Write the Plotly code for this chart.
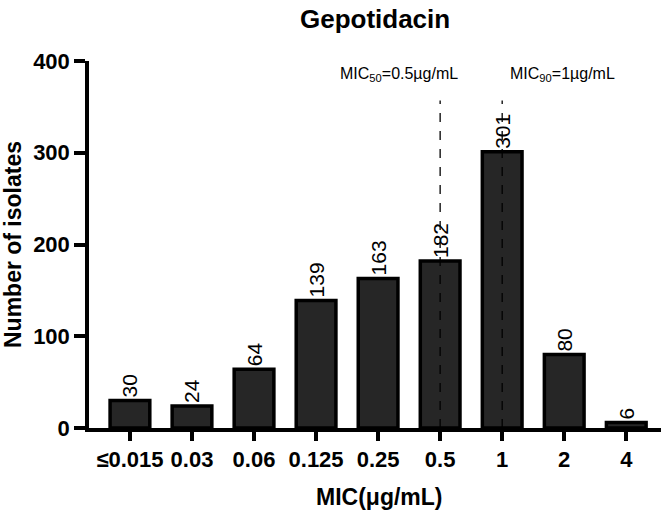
import plotly.graph_objects as go

categories = ["≤0.015", "0.03", "0.06", "0.125", "0.25", "0.5", "1", "2", "4"]
counts = [30, 24, 64, 139, 163, 182, 301, 80, 6]
mic50_cat = "0.5"
mic90_cat = "1"
mic_line_top = 357
yticks = [0, 100, 200, 300, 400]

FONT = "Liberation Sans, Arial, sans-serif"
xs = list(range(len(categories)))
i50 = categories.index(mic50_cat)
i90 = categories.index(mic90_cat)

fig = go.Figure()
fig.add_trace(go.Bar(
    x=xs, y=counts, width=0.64,
    marker=dict(color="#262626", line=dict(color="black", width=3.5)),
    text=[str(v) for v in counts], textposition="outside", textangle=-90,
    textfont=dict(family=FONT, size=21, color="black"),
    cliponaxis=False,
))

for idx in (i50, i90):
    fig.add_shape(type="line", xref="x", yref="y", x0=idx, x1=idx, y0=0, y1=mic_line_top,
                  line=dict(color="black", width=1.3, dash="dash"), layer="above")

fig.add_annotation(x=i50 - 0.66, y=385, xref="x", yref="y", yanchor="middle",
                   text="MIC<sub>50</sub>=0.5µg/mL", showarrow=False,
                   font=dict(family=FONT, size=16, color="black"))
fig.add_annotation(x=i90 + 0.97, y=385, xref="x", yref="y", yanchor="middle",
                   text="MIC<sub>90</sub>=1µg/mL", showarrow=False,
                   font=dict(family=FONT, size=16, color="black"))
fig.add_annotation(x=0.507, y=-0.188, xref="paper", yref="paper", yanchor="middle",
                   text="<b>MIC(μg/mL)</b>", showarrow=False,
                   font=dict(family=FONT, size=23, color="black"))

fig.update_layout(
    width=671, height=510,
    margin=dict(l=89, r=10, t=61, b=82),
    plot_bgcolor="white", paper_bgcolor="white",
    showlegend=False,
    title=dict(text="<b>Gepotidacin</b>", x=0.559, xanchor="center", y=0.963, yanchor="middle",
               font=dict(family=FONT, size=26, color="black")),
    xaxis=dict(
        range=[-0.66, 8.56], tickmode="array", tickvals=xs, ticktext=categories,
        showline=True, linecolor="black", linewidth=3.5, ticks="outside", ticklen=9,
        tickwidth=3.5, tickcolor="black", showgrid=False, zeroline=False, automargin=False,
        tickfont=dict(family=FONT, size=22, color="black", weight="bold"),
    ),
    yaxis=dict(
        range=[0, 400], tickmode="array", tickvals=yticks,
        showline=True, linecolor="black", linewidth=3.5, ticks="outside", ticklen=11,
        tickwidth=3.5, tickcolor="black", showgrid=False, zeroline=False, automargin=False,
        tickfont=dict(family=FONT, size=22, color="black", weight="bold"),
        title=dict(text="<b>Number of isolates</b>", font=dict(family=FONT, size=23, color="black"), standoff=6),
    ),
)

fig.write_html("out.html")
